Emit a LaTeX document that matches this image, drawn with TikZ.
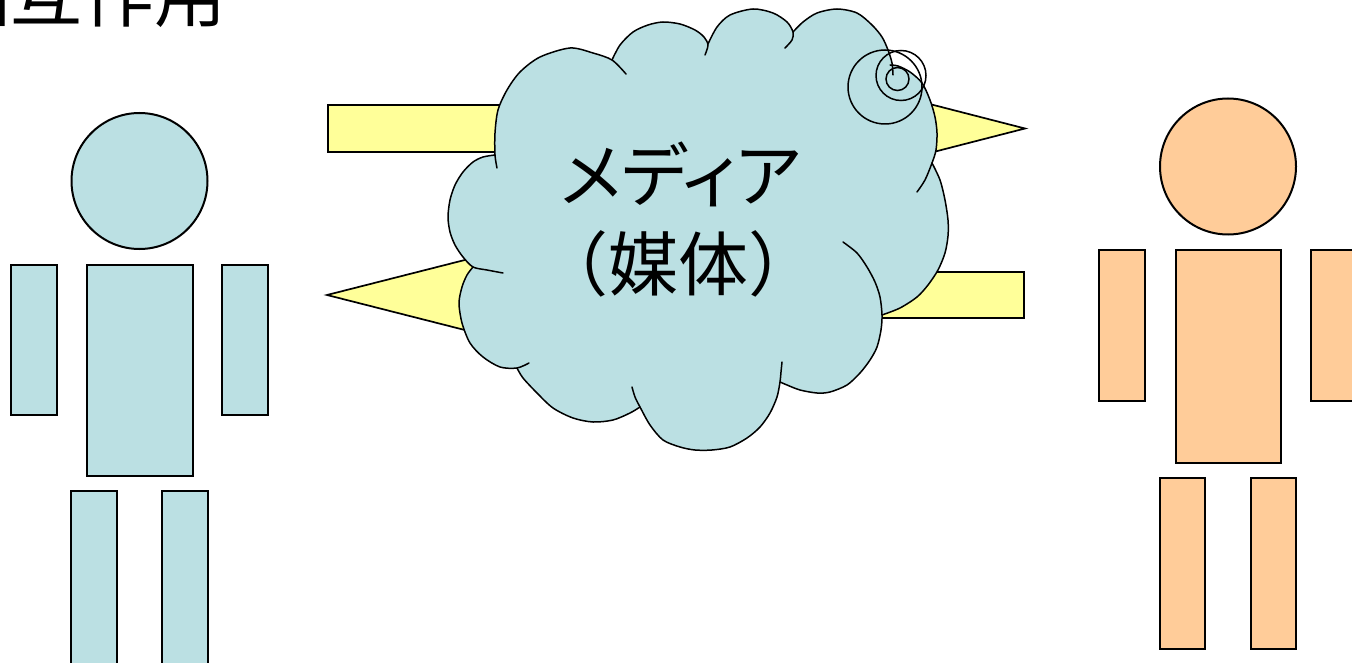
\documentclass[tikz,border=0pt]{standalone}
\usepackage{fontspec}
\newfontfamily\jpfont{Noto Sans CJK JP}
\newfontfamily\jpprop[RawFeature=+palt]{Noto Sans CJK JP}
\definecolor{figblue}{RGB}{187,224,227}
\definecolor{figorange}{RGB}{255,204,153}
\definecolor{arrowyellow}{RGB}{255,255,153}
\begin{document}
\begin{tikzpicture}[x=1pt,y=-1pt,
  body/.style={line width=2pt, draw=black},
  bluebody/.style={body, fill=figblue},
  orangebody/.style={body, fill=figorange},
  arrowshape/.style={fill=arrowyellow, draw=black, line width=1.7pt, line join=miter},
  cloudfill/.style={fill=figblue},
  cloudline/.style={draw=black, line width=1.5pt, line cap=round},
  bigtext/.style={inner sep=0pt, font=\jpfont\fontsize{70}{84}\selectfont}]
\useasboundingbox (0,0) rectangle (1352,663);
\clip (0,0) rectangle (1352,663);

% left figure (blue)
\draw[bluebody] (139.5,181) circle[radius=68];
\draw[bluebody] (11,265) rectangle (57,415);
\draw[bluebody] (87,265) rectangle (193,476);
\draw[bluebody] (222,265) rectangle (268,415);
\draw[bluebody] (71,491) rectangle (117,690);
\draw[bluebody] (162,491) rectangle (208,690);

% right figure (orange)
\draw[orangebody] (1228,166.5) circle[radius=68];
\draw[orangebody] (1099,250) rectangle (1145,401);
\draw[orangebody] (1176,250) rectangle (1281,463);
\draw[orangebody] (1311,250) rectangle (1357,401);
\draw[orangebody] (1160,478) rectangle (1205,649);
\draw[orangebody] (1251,478) rectangle (1296,649);

% yellow arrows
\draw[arrowshape] (328,105) -- (840,105) -- (840,81) -- (1025,128.5) -- (840,176) -- (840,152) -- (328,152) -- cycle;
\draw[arrowshape] (1024,272) -- (512,272) -- (512,248) -- (327,295) -- (512,342) -- (512,318) -- (1024,318) -- cycle;

% cloud fill
\path[cloudfill]
  plot[smooth] coordinates {(495,155) (495,133) (498,110) (507,90) (520,72) (540,57) (570,48) (593,53) (612,60)}
  -- plot[smooth] coordinates {(612,60) (620,45) (633,32) (648,25) (663,22) (680,24) (695,30) (704,37) (708,44)}
  -- plot[smooth] coordinates {(708,44) (717,27) (730,15) (753,9) (773,13) (787,22) (793,32)}
  -- plot[smooth] coordinates {(793,32) (803,22) (817,13) (837,9) (857,13) (872,25) (882,37) (888,50) (892,65)}
  -- plot[smooth] coordinates {(897,66) (910,72) (922,83) (930,100) (935,117) (937,133) (936,150) (932,163)}
  -- plot[smooth] coordinates {(932,163) (940,180) (945,200) (948,220) (948,236) (945,253) (938,270) (928,285) (917,297) (900,308) (882,315)}
  -- plot[smooth] coordinates {(882,315) (881,330) (877,347) (870,360) (860,373) (847,385) (830,392) (817,393) (800,390) (787,385) (780,382)}
  -- plot[smooth] coordinates {(780,382) (777,397) (770,413) (760,427) (747,438) (730,447) (712,450) (695,450) (680,447) (663,440) (650,425) (640,407)}
  -- plot[smooth] coordinates {(640,407) (630,413) (613,420) (593,422) (573,418) (553,408) (537,393) (523,378) (517,368)}
  -- plot[smooth] coordinates {(517,368) (500,367) (483,357) (470,343) (462,323) (459,303) (462,287) (467,275) (473,267)}
  -- plot[smooth] coordinates {(473,267) (463,257) (455,245) (450,232) (448,217) (450,200) (455,185) (463,172) (473,162) (483,157) (495,155)}
  -- cycle;

% cloud outline (lobes with inner extensions)
\draw[cloudline] plot[smooth] coordinates {(497,168) (495,155) (495,133) (498,110) (507,90) (520,72) (540,57) (570,48) (593,53) (612,60) (626,74)};
\draw[cloudline] plot[smooth] coordinates {(612,60) (620,45) (633,32) (648,25) (663,22) (680,24) (695,30) (704,37) (708,45) (705,55)};
\draw[cloudline] plot[smooth] coordinates {(708,44) (717,27) (730,15) (753,9) (773,13) (787,22) (793,32) (792,40) (785,48)};
\draw[cloudline] plot[smooth] coordinates {(793,32) (803,22) (817,13) (837,9) (857,13) (872,25) (882,37) (888,50) (892,63) (893,75)};
\draw[cloudline] plot[smooth] coordinates {(890,65) (898,66) (910,72) (922,83) (930,100) (935,117) (937,133) (936,150) (932,163) (925,180) (917,192)};
\draw[cloudline] plot[smooth] coordinates {(932,163) (940,180) (945,200) (948,220) (948,236) (945,253) (938,270) (928,285) (917,297) (900,308) (882,315)};
\draw[cloudline] plot[smooth] coordinates {(843,242) (857,253) (867,267) (875,282) (880,297) (882,315) (881,330) (877,347) (870,360) (860,373) (847,385) (830,392) (817,393) (800,390) (787,385) (780,382)};
\draw[cloudline] plot[smooth] coordinates {(782,362) (781,372) (780,382) (777,397) (770,413) (760,427) (747,438) (730,447) (712,450) (695,450) (680,447) (663,440) (650,425) (640,407) (635,397) (632,387)};
\draw[cloudline] plot[smooth] coordinates {(640,407) (630,413) (613,420) (593,422) (573,418) (553,408) (537,393) (523,378) (517,368)};
\draw[cloudline] plot[smooth] coordinates {(529,363) (517,368) (500,367) (483,357) (470,343) (462,323) (459,303) (462,287) (467,275) (473,267)};
\draw[cloudline] plot[smooth] coordinates {(503,273) (487,270) (473,267) (463,257) (455,245) (450,232) (448,217) (450,200) (455,185) (463,172) (473,162) (483,157) (495,155)};

% thought-bubble circles
\draw[cloudline] (897.5,79) circle[radius=11.5];
\draw[cloudline] (901,75.5) circle[radius=25];
\draw[cloudline] (885,87) circle[radius=37];

% texts
\node[bigtext, font=\jpprop\fontsize{70}{84}\selectfont] (media) at (681,174) {メディア};
\node[bigtext] (baitai) at (678,264) {（媒体）};
\node[inner sep=0pt, anchor=base west, font=\jpfont\fontsize{72}{86}\selectfont] (title) at (-62,22) {相互作用};
\end{tikzpicture}
\end{document}
